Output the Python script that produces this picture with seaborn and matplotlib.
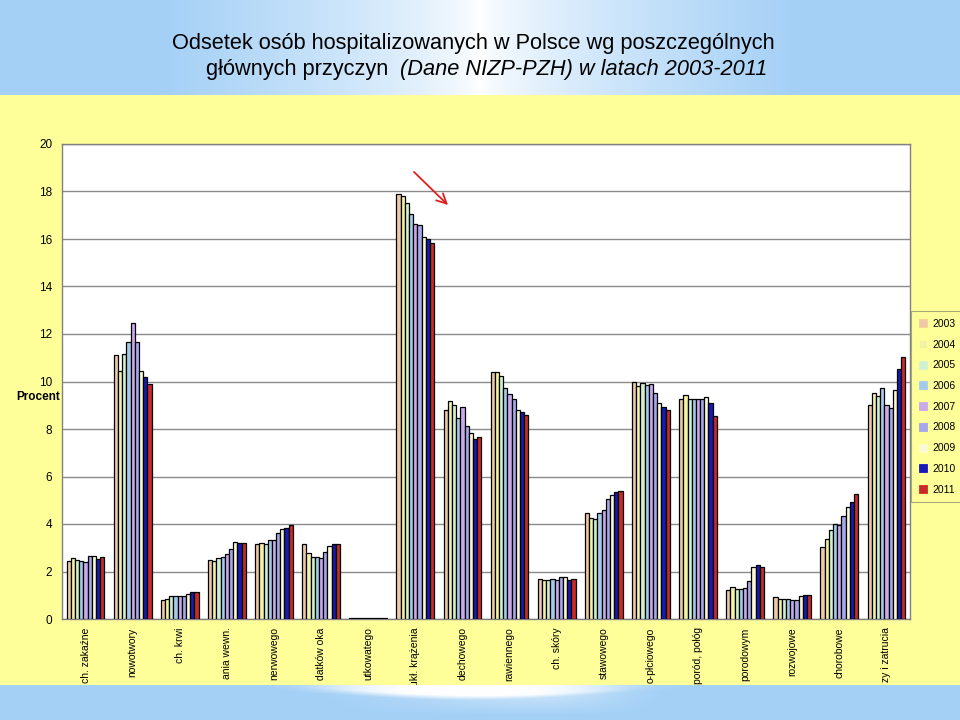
import numpy as np
import pandas as pd
import matplotlib
matplotlib.use("Agg")
import matplotlib.pyplot as plt
import seaborn as sns
from matplotlib.patches import Rectangle

categories = ["ch. zakaźne", "nowotwory", "ch. krwi", "ania wewn.", "nerwowego",
              "datków oka", "utkowatego", "ukł. krążenia", "dechowego", "rawiennego",
              "ch. skóry", "stawowego", "o-płciowego", "poród, połóg", "porodowym",
              "rozwojowe", "chorobowe", "zy i zatrucia"]
years = ["2003", "2004", "2005", "2006", "2007", "2008", "2009", "2010", "2011"]

v2003 = [2.46, 11.12, 0.78, 2.50, 3.17, 3.17, 0.03, 17.90, 8.81, 10.42, 1.69, 4.45, 9.99, 9.27, 1.24, 0.93, 3.05, 9.02]
v2004 = [2.58, 10.46, 0.85, 2.46, 3.18, 2.79, 0.03, 17.82, 9.17, 10.42, 1.65, 4.26, 9.82, 9.45, 1.34, 0.86, 3.36, 9.51]
v2005 = [2.48, 11.14, 0.95, 2.55, 3.17, 2.63, 0.03, 17.50, 9.02, 10.24, 1.63, 4.23, 9.92, 9.27, 1.27, 0.85, 3.73, 9.38]
v2006 = [2.46, 11.65, 0.96, 2.60, 3.33, 2.62, 0.03, 17.07, 8.47, 9.73, 1.68, 4.45, 9.86, 9.25, 1.25, 0.85, 3.98, 9.72]
v2007 = [2.39, 12.47, 0.96, 2.74, 3.33, 2.58, 0.03, 16.62, 8.92, 9.48, 1.66, 4.58, 9.89, 9.27, 1.31, 0.81, 3.94, 9.02]
v2008 = [2.64, 11.65, 0.98, 2.94, 3.61, 2.81, 0.03, 16.60, 8.13, 9.27, 1.76, 5.04, 9.52, 9.25, 1.62, 0.82, 4.35, 8.89]
v2009 = [2.67, 10.46, 1.06, 3.23, 3.80, 3.09, 0.03, 16.08, 7.85, 8.78, 1.78, 5.24, 9.10, 9.33, 2.21, 0.95, 4.72, 9.66]
v2010 = [2.53, 10.20, 1.12, 3.22, 3.84, 3.14, 0.03, 16.00, 7.56, 8.71, 1.66, 5.33, 8.91, 9.10, 2.27, 1.02, 4.92, 10.53]
v2011 = [2.60, 9.90, 1.15, 3.22, 3.94, 3.14, 0.03, 15.85, 7.67, 8.60, 1.69, 5.41, 8.81, 8.53, 2.21, 1.02, 5.27, 11.05]

series = [v2003, v2004, v2005, v2006, v2007, v2008, v2009, v2010, v2011]
colors = ["#F9C99A", "#FFFF99", "#CCF5CC", "#99CCF5", "#C8A0F5", "#9C9CF5", "#FFFFD2", "#0000CC", "#E01010"]

title1 = "Odsetek osób hospitalizowanych w Polsce wg poszczególnych"
title2a = "głównych przyczyn  "
title2b = "(Dane NIZP-PZH) w latach 2003-2011"
ylabel = "Procent"

rows = []
for y, vals in zip(years, series):
    for c, v in zip(categories, vals):
        rows.append({"cat": c, "year": y, "val": v})
df = pd.DataFrame(rows)

sns.set_style("white")
plt.rcParams["font.family"] = ["Liberation Sans", "DejaVu Sans"]
plt.rcParams["text.color"] = "black"
plt.rcParams["xtick.labelcolor"] = "black"
plt.rcParams["ytick.labelcolor"] = "black"

W, H = 960, 720
fig = plt.figure(figsize=(9.6, 7.2), dpi=100)

# ---- background ----
bg = fig.add_axes([0, 0, 1, 1], zorder=-5)
bg.set_xlim(0, W)
bg.set_ylim(H, 0)
bg.axis("off")
blue = np.array([164, 208, 246]) / 255.0
white = np.array([1.0, 1.0, 1.0])
xs = np.linspace(0, 1, W)
t = np.clip(np.abs(xs - 0.5) / 0.5 * 1.5, 0, 1) ** 0.7
grad = (white[None, :] * (1 - t[:, None]) + blue[None, :] * t[:, None])[None, :, :]
bg.imshow(grad, extent=(0, W, 95, 0), aspect="auto", interpolation="bilinear")
bg.add_patch(Rectangle((0, 95), W, 590, color="#FFFF99", lw=0))

# bottom band
bh = 35
img = np.tile(blue, (bh, W, 1))
xx = np.arange(W)
yy = np.arange(bh)
wfac = np.exp(-((xx - 470) / 150.0) ** 4)
bound = 16 * np.exp(-((xx - 480) / 200.0) ** 2)
for j in yy:
    a = wfac * np.clip((bound - j) / 6.0, 0, 1)
    a = np.maximum(a, 0.6 * wfac * np.clip(1 - j / 30.0, 0, 1) * np.exp(-((xx - 560) / 160.0) ** 2))
    img[j] = img[j] * (1 - a[:, None]) + white[None, :] * a[:, None]
bot = fig.add_axes([0, 0, 1, bh / H], zorder=10)
bot.imshow(img, extent=(0, W, bh, 0), aspect="auto", interpolation="bilinear")
bot.axis("off")

# ---- main axes ----
ax = fig.add_axes([62 / W, 1 - 619 / H, 848 / W, 475 / H])
ax.set_facecolor("white")
sns.barplot(data=df, x="cat", y="val", hue="year", order=categories, hue_order=years,
            palette=colors, edgecolor="black", linewidth=0.9, width=0.8,
            errorbar=None, ax=ax, zorder=3)
ax.set_ylim(0, 20)
ax.set_xlim(-0.5, len(categories) - 0.5)
ax.set_yticks(np.arange(0, 21, 2))
ax.set_yticklabels([str(v) for v in range(0, 21, 2)], fontsize=8.5)
ax.yaxis.grid(True, color="#8a8a8a", lw=1, zorder=0)
ax.set_axisbelow(True)
for s in ax.spines.values():
    s.set_color("#808080")
    s.set_linewidth(1)
ax.set_xlabel("")
ax.set_ylabel("")
ax.set_xticks(np.arange(-0.5, len(categories), 1))
ax.set_xticklabels([])
ax.set_xticks(np.arange(len(categories)), minor=True)
ax.set_xticklabels(categories, minor=True, rotation=90, fontsize=7.5, va="top", ha="center")
ax.tick_params(axis="x", which="major", length=4, color="#808080", direction="out")
ax.tick_params(axis="x", which="minor", length=0, pad=6)
ax.tick_params(axis="y", length=5, color="#808080", direction="out", pad=2)

handles, labels = ax.get_legend_handles_labels()
if ax.get_legend() is not None:
    ax.get_legend().remove()
for h, c in zip(handles, colors):
    h.set_edgecolor(c)
    h.set_linewidth(0.5)
leg = fig.legend(handles, labels, loc="upper left", bbox_to_anchor=(911 / W, 1 - 311 / H),
                 frameon=True, facecolor="#FFFF99", edgecolor="#A8A878", fancybox=False,
                 framealpha=1, fontsize=7.5, handlelength=0.8, handleheight=0.8,
                 handletextpad=0.5, labelspacing=1.03, borderpad=0.75, borderaxespad=0)
leg.get_frame().set_linewidth(0.8)

fig.text(60 / W, 1 - 397 / H, ylabel, ha="right", va="center", fontsize=8.5, fontweight="bold")

# ---- title ----
fig.text(473 / W, 1 - 43 / H, title1, ha="center", va="center", fontsize=15.7, color="black")
fig.canvas.draw()
r = fig.canvas.get_renderer()
ta = fig.text(0, 1 - 70 / H, title2a, ha="left", va="center", fontsize=15.7, color="black")
tb = fig.text(0, 1 - 70 / H, title2b, ha="left", va="center", fontsize=15.7, style="italic",
              color="black")
wa = ta.get_window_extent(r).width
wb = tb.get_window_extent(r).width
x0 = 487 - (wa + wb) / 2
ta.set_x(x0 / W)
tb.set_x((x0 + wa) / W)

# ---- arrow ----
ax.annotate("", xy=(450, H - 207), xytext=(412, H - 170), xycoords="figure pixels",
            textcoords="figure pixels", annotation_clip=False,
            arrowprops=dict(arrowstyle="->,head_length=0.7,head_width=0.35",
                            color="#E02020", lw=1.3))

fig.savefig("out.png", dpi=100)
